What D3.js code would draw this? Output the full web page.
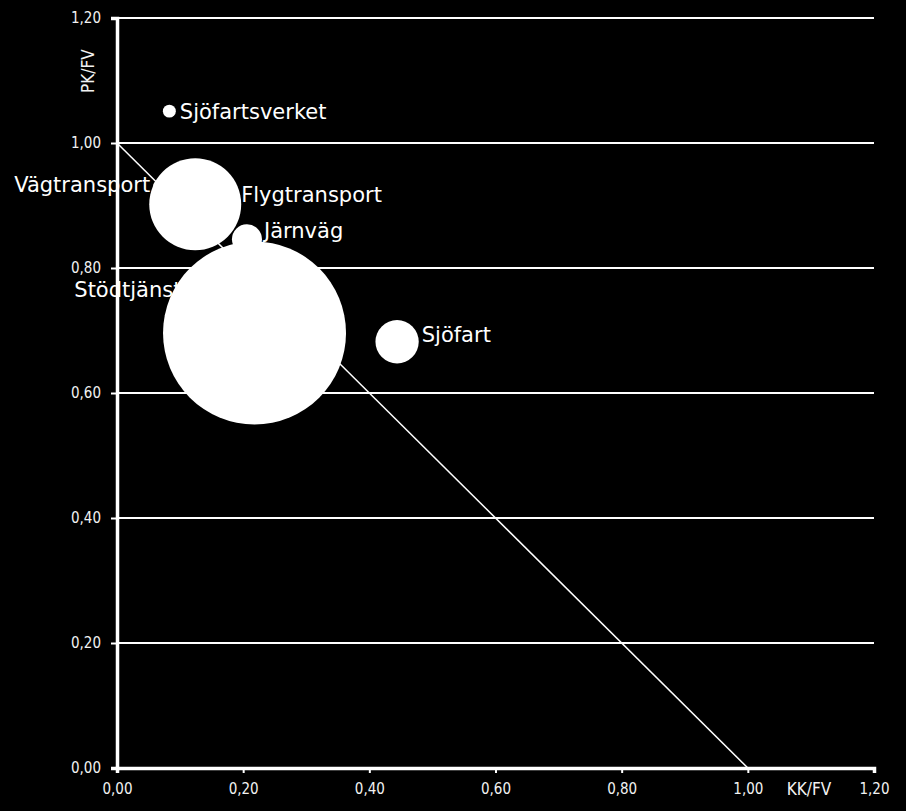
<!DOCTYPE html>
<html>
<head>
<meta charset="utf-8">
<script src="https://cdn.jsdelivr.net/npm/d3@7.9.0/dist/d3.min.js"></script>
<style>
  html, body { margin: 0; padding: 0; background: #000; }
  svg { display: block; }
  .tick text { font-family: "DejaVu Sans Condensed", "DejaVu Sans", sans-serif; font-size: 15px; fill: #f2f2f2; }
  .axis-title { font-family: "DejaVu Sans Condensed", "DejaVu Sans", sans-serif; font-size: 17px; fill: #f2f2f2; }
  .bubble-label { font-family: "DejaVu Sans", Verdana, sans-serif; font-size: 21px; fill: #fff; }
</style>
</head>
<body>
<svg id="chart" width="906" height="811"></svg>
<script>
// Data
const names = ['Vägtransport', 'Sjöfartsverket', 'Flygtransport', 'Järnväg', 'Stödtjänster', 'Sjöfart'];
const kkfv  = [0.070, 0.083, 0.124, 0.206, 0.218, 0.444];   // x
const pkfv  = [0.930, 1.051, 0.902, 0.846, 0.696, 0.682];   // y
const sizes = [64, 42, 2120, 226, 8400, 470];               // bubble size (area)
const tickValues = [0, 0.2, 0.4, 0.6, 0.8, 1.0, 1.2];

// Label placement (side of the bubble, nudges)
const labelSide = ['left', 'right', 'right', 'right', 'left', 'right'];
const labelDy   = [-2, 0, -10, -9, -44, -7];
const labelDx   = [3, 4, 0, 2, -40, 3];

const width = 906, height = 811;
const margin = { top: 18, right: 32, bottom: 43, left: 117 };

const svg = d3.select('#chart');

const x = d3.scaleLinear().domain([0, 1.2]).range([margin.left, width - margin.right]);
const y = d3.scaleLinear().domain([0, 1.2]).range([height - margin.bottom, margin.top]);
const r = d3.scaleSqrt().domain([0, d3.max(sizes)]).range([0, 91.5]);

const fmt = d => d3.format('.2f')(d).replace('.', ',');

// Horizontal gridlines
svg.append('g')
  .selectAll('line')
  .data(tickValues.filter(d => d > 0))
  .join('line')
  .attr('x1', x(0)).attr('x2', x(1.2))
  .attr('y1', d => y(d)).attr('y2', d => y(d))
  .attr('stroke', '#fff')
  .attr('stroke-width', 2);

// Diagonal reference line from (0,1) to (1,0)
svg.append('line')
  .attr('x1', x(0)).attr('y1', y(1))
  .attr('x2', x(1)).attr('y2', y(0))
  .attr('stroke', '#fff')
  .attr('stroke-width', 1.5);

// Y axis
const yAxis = svg.append('g')
  .attr('transform', `translate(${x(0)},0)`)
  .call(d3.axisLeft(y).tickValues(tickValues).tickFormat(fmt).tickSize(6).tickPadding(10));
yAxis.select('.domain').attr('stroke', '#fff').attr('stroke-width', 3.5);
yAxis.selectAll('.tick line').attr('stroke', '#fff').attr('stroke-width', 2);

// X axis
const xAxis = svg.append('g')
  .attr('transform', `translate(0,${y(0)})`)
  .call(d3.axisBottom(x).tickValues(tickValues).tickFormat(fmt).tickSize(5).tickPadding(10));
xAxis.select('.domain').attr('stroke', '#fff').attr('stroke-width', 3.5);
xAxis.selectAll('.tick line').attr('stroke', '#fff').attr('stroke-width', 2);

// Axis titles
svg.append('text')
  .attr('class', 'axis-title')
  .attr('transform', `translate(${x(0) - 23},${y(1.115)}) rotate(-90)`)
  .attr('text-anchor', 'middle')
  .text('PK/FV');

svg.append('text')
  .attr('class', 'axis-title')
  .attr('x', x(1.097))
  .attr('y', y(0) + 27)
  .attr('text-anchor', 'middle')
  .text('KK/FV');

const points = names.map((n, i) => ({
  name: n, x: kkfv[i], y: pkfv[i], size: sizes[i],
  side: labelSide[i], dx: labelDx[i], dy: labelDy[i]
}));

// Labels (drawn beneath the bubbles)
svg.append('g')
  .selectAll('text')
  .data(points)
  .join('text')
  .attr('class', 'bubble-label')
  .attr('x', d => d.side === 'right' ? x(d.x) + r(d.size) + d.dx : x(d.x) - r(d.size) - d.dx)
  .attr('y', d => y(d.y) + d.dy)
  .attr('dy', '0.36em')
  .attr('text-anchor', d => d.side === 'right' ? 'start' : 'end')
  .text(d => d.name);

// Bubbles
svg.append('g')
  .selectAll('circle')
  .data(points)
  .join('circle')
  .attr('cx', d => x(d.x))
  .attr('cy', d => y(d.y))
  .attr('r', d => r(d.size))
  .attr('fill', '#fff');
</script>
</body>
</html>
